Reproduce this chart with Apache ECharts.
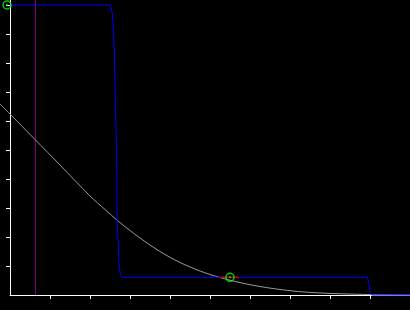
<!DOCTYPE html>
<html>
<head>
<meta charset="utf-8">
<script src="https://cdn.jsdelivr.net/npm/echarts@6/dist/echarts.min.js"></script>
<style>
html,body{margin:0;padding:0;background:#000;}
#c{width:410px;height:310px;}
</style>
</head>
<body>
<div id="c"></div>
<script>
// Gray decaying curve
const curveX = [-0.25, 0, 0.625, 1.25, 2.0, 2.375, 2.7, 3.0, 3.25, 3.5, 3.75, 4.0, 4.25, 4.5, 4.75, 5.0, 5.25, 5.5, 5.75, 6.0, 6.25, 6.5, 6.75, 7.125, 7.5, 8.0, 8.625, 9.05, 10];
const curveY = [6.586, 6.241, 5.362, 4.483, 3.414, 2.948, 2.552, 2.224, 1.966, 1.724, 1.5, 1.3, 1.121, 0.966, 0.828, 0.707, 0.603, 0.51, 0.428, 0.355, 0.293, 0.238, 0.19, 0.131, 0.09, 0.055, 0.028, 0.014, 0.003];
// Blue step path
const pathX = [0, 2.5, 2.525, 2.5625, 2.5875, 2.6125, 2.64, 2.67, 2.68, 2.71, 2.73, 2.77, 2.8, 8.93, 8.96, 8.99, 9.01, 9.05, 10];
const pathY = [10, 10, 9.9, 9.66, 9.14, 8.1, 6.38, 4.48, 2.41, 1.72, 0.93, 0.69, 0.61, 0.61, 0.48, 0.24, 0.07, 0, 0];
// Purple vertical marker
const vLineX = 0.6375;
// Red highlighted segment
const redX = [5.25, 5.725];
const redY = [0.61, 0.61];
// Green circle markers
const markX = [-0.075, 5.5];
const markY = [10, 0.61];
// Axis ticks
const xTicks = [1, 2, 3, 4, 5, 6, 7, 8, 9];
const yTicks = [1, 2, 3, 4, 5, 6, 7, 8, 9, 10];
const yMax = 295 / 29;

const zip = (a, b) => a.map((v, i) => [v, b[i]]);

const chart = echarts.init(document.getElementById('c'), null, {renderer: 'canvas'});
chart.setOption({
  animation: false,
  backgroundColor: '#000',
  grid: [
    {left: 10, right: 0, top: 0, bottom: 15, containLabel: false},
    {left: 0, right: 0, top: 0, bottom: 15, containLabel: false}
  ],
  xAxis: [{
    type: 'value', gridIndex: 0, min: 0, max: 10, interval: 1,
    axisLine: {show: true, lineStyle: {color: '#fff', width: 1}},
    axisTick: {show: true, length: 4, customValues: xTicks, lineStyle: {color: '#fff', width: 1}},
    axisLabel: {show: false},
    splitLine: {show: false}
  }, {
    type: 'value', gridIndex: 1, min: -0.25, max: 10, show: false
  }],
  yAxis: [{
    type: 'value', gridIndex: 0, min: 0, max: yMax, interval: 1,
    axisLine: {show: true, lineStyle: {color: '#fff', width: 1}},
    axisTick: {show: true, length: 4, customValues: yTicks, lineStyle: {color: '#fff', width: 1}},
    axisLabel: {show: false},
    splitLine: {show: false}
  }, {
    type: 'value', gridIndex: 1, min: 0, max: yMax, show: false
  }],
  series: [
    {type: 'line', xAxisIndex: 0, yAxisIndex: 0, data: [[vLineX, 0], [vLineX, yMax]], symbol: 'none', clip: false, z: 1,
     lineStyle: {color: '#800080', width: 1}},
    {type: 'line', xAxisIndex: 1, yAxisIndex: 1, data: zip(curveX, curveY), symbol: 'none', smooth: 0.3, z: 2,
     lineStyle: {color: '#9a9a9a', width: 1}},
    {type: 'line', xAxisIndex: 0, yAxisIndex: 0, data: zip(pathX, pathY), symbol: 'none', clip: false, z: 3,
     lineStyle: {color: '#0000ff', width: 1}},
    {type: 'line', xAxisIndex: 0, yAxisIndex: 0, data: zip(redX, redY), symbol: 'none', clip: false, z: 4,
     lineStyle: {color: '#c00000', width: 1.5}},
    {type: 'scatter', xAxisIndex: 0, yAxisIndex: 0, data: zip(markX, markY), symbol: 'circle', symbolSize: 8, clip: false, z: 5,
     itemStyle: {color: 'rgba(0,0,0,0)', borderColor: '#00ff00', borderWidth: 1.5}},
    {type: 'scatter', xAxisIndex: 0, yAxisIndex: 0, data: zip(markX, markY), symbol: 'circle', symbolSize: 2, clip: false, z: 6,
     itemStyle: {color: '#00ff00'}}
  ]
});
</script>
</body>
</html>
